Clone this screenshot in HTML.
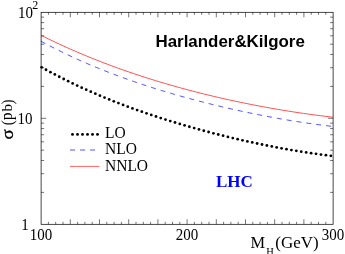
<!DOCTYPE html>
<html><head><meta charset="utf-8"><title>plot</title>
<style>
html,body{margin:0;padding:0;background:#fff;}
body{width:345px;height:254px;overflow:hidden;}
svg{display:block;will-change:transform;}
text{font-family:"Liberation Serif",serif;fill:#000;}
.sans{font-family:"Liberation Sans",sans-serif;font-weight:bold;}
</style></head><body>
<svg width="345" height="254" viewBox="0 0 345 254">

<!-- frame -->
<rect x="41.1" y="12.3" width="292.0" height="212.0" fill="none" stroke="#000" stroke-width="0.72"/>
<path d="M48.40,224.3 v-2.5 M48.40,12.3 v2.5 M55.70,224.3 v-2.5 M55.70,12.3 v2.5 M63.00,224.3 v-2.5 M63.00,12.3 v2.5 M70.30,224.3 v-5.0 M70.30,12.3 v5.0 M77.60,224.3 v-2.5 M77.60,12.3 v2.5 M84.90,224.3 v-2.5 M84.90,12.3 v2.5 M92.20,224.3 v-2.5 M92.20,12.3 v2.5 M99.50,224.3 v-5.0 M99.50,12.3 v5.0 M106.80,224.3 v-2.5 M106.80,12.3 v2.5 M114.10,224.3 v-2.5 M114.10,12.3 v2.5 M121.40,224.3 v-2.5 M121.40,12.3 v2.5 M128.70,224.3 v-5.0 M128.70,12.3 v5.0 M136.00,224.3 v-2.5 M136.00,12.3 v2.5 M143.30,224.3 v-2.5 M143.30,12.3 v2.5 M150.60,224.3 v-2.5 M150.60,12.3 v2.5 M157.90,224.3 v-5.0 M157.90,12.3 v5.0 M165.20,224.3 v-2.5 M165.20,12.3 v2.5 M172.50,224.3 v-2.5 M172.50,12.3 v2.5 M179.80,224.3 v-2.5 M179.80,12.3 v2.5 M187.10,224.3 v-5.0 M187.10,12.3 v5.0 M194.40,224.3 v-2.5 M194.40,12.3 v2.5 M201.70,224.3 v-2.5 M201.70,12.3 v2.5 M209.00,224.3 v-2.5 M209.00,12.3 v2.5 M216.30,224.3 v-5.0 M216.30,12.3 v5.0 M223.60,224.3 v-2.5 M223.60,12.3 v2.5 M230.90,224.3 v-2.5 M230.90,12.3 v2.5 M238.20,224.3 v-2.5 M238.20,12.3 v2.5 M245.50,224.3 v-5.0 M245.50,12.3 v5.0 M252.80,224.3 v-2.5 M252.80,12.3 v2.5 M260.10,224.3 v-2.5 M260.10,12.3 v2.5 M267.40,224.3 v-2.5 M267.40,12.3 v2.5 M274.70,224.3 v-5.0 M274.70,12.3 v5.0 M282.00,224.3 v-2.5 M282.00,12.3 v2.5 M289.30,224.3 v-2.5 M289.30,12.3 v2.5 M296.60,224.3 v-2.5 M296.60,12.3 v2.5 M303.90,224.3 v-5.0 M303.90,12.3 v5.0 M311.20,224.3 v-2.5 M311.20,12.3 v2.5 M318.50,224.3 v-2.5 M318.50,12.3 v2.5 M325.80,224.3 v-2.5 M325.80,12.3 v2.5 M41.1,192.39 h3.0 M333.1,192.39 h-3.0 M41.1,173.73 h3.0 M333.1,173.73 h-3.0 M41.1,160.48 h3.0 M333.1,160.48 h-3.0 M41.1,150.21 h3.0 M333.1,150.21 h-3.0 M41.1,141.82 h3.0 M333.1,141.82 h-3.0 M41.1,134.72 h3.0 M333.1,134.72 h-3.0 M41.1,128.57 h3.0 M333.1,128.57 h-3.0 M41.1,123.15 h3.0 M333.1,123.15 h-3.0 M41.1,118.30 h5.0 M333.1,118.30 h-5.0 M41.1,86.39 h3.0 M333.1,86.39 h-3.0 M41.1,67.73 h3.0 M333.1,67.73 h-3.0 M41.1,54.48 h3.0 M333.1,54.48 h-3.0 M41.1,44.21 h3.0 M333.1,44.21 h-3.0 M41.1,35.82 h3.0 M333.1,35.82 h-3.0 M41.1,28.72 h3.0 M333.1,28.72 h-3.0 M41.1,22.57 h3.0 M333.1,22.57 h-3.0 M41.1,17.15 h3.0 M333.1,17.15 h-3.0" fill="none" stroke="#000" stroke-width="0.55"/>
<!-- curves -->
<path d="M41.00,35.24 L44.70,37.08 L48.39,38.90 L52.09,40.68 L55.78,42.44 L59.48,44.17 L63.18,45.87 L66.87,47.54 L70.57,49.19 L74.27,50.81 L77.96,52.40 L81.66,53.97 L85.35,55.51 L89.05,57.03 L92.75,58.53 L96.44,60.00 L100.14,61.45 L103.84,62.87 L107.53,64.28 L111.23,65.66 L114.92,67.02 L118.62,68.36 L122.32,69.67 L126.01,70.97 L129.71,72.24 L133.41,73.50 L137.10,74.74 L140.80,75.95 L144.49,77.15 L148.19,78.33 L151.89,79.49 L155.58,80.63 L159.28,81.75 L162.97,82.86 L166.67,83.94 L170.37,85.02 L174.06,86.07 L177.76,87.11 L181.46,88.13 L185.15,89.13 L188.85,90.12 L192.54,91.09 L196.24,92.04 L199.94,92.98 L203.63,93.91 L207.33,94.82 L211.03,95.71 L214.72,96.59 L218.42,97.45 L222.11,98.30 L225.81,99.13 L229.51,99.95 L233.20,100.76 L236.90,101.55 L240.59,102.33 L244.29,103.09 L247.99,103.84 L251.68,104.57 L255.38,105.29 L259.08,106.00 L262.77,106.69 L266.47,107.37 L270.16,108.03 L273.86,108.69 L277.56,109.32 L281.25,109.95 L284.95,110.56 L288.65,111.15 L292.34,111.73 L296.04,112.30 L299.73,112.85 L303.43,113.39 L307.13,113.92 L310.82,114.43 L314.52,114.93 L318.22,115.41 L321.91,115.88 L325.61,116.34 L329.30,116.78 L333.00,117.20" fill="none" stroke="#ff0000" stroke-width="0.68"/>
<path d="M40.96,41.20 L42.43,41.99 L43.90,42.78 L45.36,43.56 L46.83,44.34 L48.30,45.11 L49.77,45.87 L51.23,46.63 L52.70,47.39 L54.17,48.13 L55.64,48.88 L57.10,49.61 L58.57,50.34 L60.04,51.07 L61.51,51.79 L62.97,52.50 L64.44,53.21 L65.91,53.92 L67.38,54.62 L68.84,55.31 L70.31,56.00 L71.78,56.68 L73.25,57.36 L74.71,58.03 L76.18,58.70 L77.65,59.37 L79.12,60.02 L80.58,60.68 L82.05,61.33 L83.52,61.97 L84.99,62.61 L86.45,63.25 L87.92,63.88 L89.39,64.50 L90.86,65.12 L92.32,65.74 L93.79,66.35 L95.26,66.96 L96.73,67.57 L98.19,68.17 L99.66,68.76 L101.13,69.35 L102.60,69.94 L104.06,70.52 L105.53,71.10 L107.00,71.68 L108.47,72.25 L109.93,72.81 L111.40,73.38 L112.87,73.94 L114.34,74.49 L115.80,75.04 L117.27,75.59 L118.74,76.14 L120.21,76.68 L121.67,77.21 L123.14,77.75 L124.61,78.28 L126.08,78.80 L127.54,79.32 L129.01,79.84 L130.48,80.36 L131.95,80.87 L133.41,81.38 L134.88,81.88 L136.35,82.39 L137.82,82.88 L139.29,83.38 L140.75,83.87 L142.22,84.36 L143.69,84.85 L145.16,85.33 L146.62,85.81 L148.09,86.29 L149.56,86.76 L151.03,87.23 L152.49,87.70 L153.96,88.16 L155.43,88.62 L156.90,89.08 L158.36,89.54 L159.83,89.99 L161.30,90.44 L162.77,90.89 L164.23,91.33 L165.70,91.77 L167.17,92.21 L168.64,92.65 L170.10,93.08 L171.57,93.51 L173.04,93.94 L174.51,94.36 L175.97,94.78 L177.44,95.20 L178.91,95.62 L180.38,96.04 L181.84,96.45 L183.31,96.86 L184.78,97.26 L186.25,97.67 L187.71,98.07 L189.18,98.47 L190.65,98.87 L192.12,99.26 L193.58,99.65 L195.05,100.04 L196.52,100.43 L197.99,100.81 L199.45,101.20 L200.92,101.58 L202.39,101.95 L203.86,102.33 L205.32,102.70 L206.79,103.07 L208.26,103.44 L209.73,103.81 L211.19,104.17 L212.66,104.53 L214.13,104.89 L215.60,105.25 L217.06,105.60 L218.53,105.96 L220.00,106.31 L221.47,106.65 L222.93,107.00 L224.40,107.34 L225.87,107.68 L227.34,108.02 L228.80,108.36 L230.27,108.69 L231.74,109.03 L233.21,109.36 L234.67,109.68 L236.14,110.01 L237.61,110.33 L239.08,110.66 L240.55,110.97 L242.01,111.29 L243.48,111.61 L244.95,111.92 L246.42,112.23 L247.88,112.54 L249.35,112.84 L250.82,113.15 L252.29,113.45 L253.75,113.75 L255.22,114.05 L256.69,114.34 L258.16,114.63 L259.62,114.93 L261.09,115.21 L262.56,115.50 L264.03,115.78 L265.49,116.07 L266.96,116.35 L268.43,116.62 L269.90,116.90 L271.36,117.17 L272.83,117.44 L274.30,117.71 L275.77,117.98 L277.23,118.24 L278.70,118.50 L280.17,118.76 L281.64,119.02 L283.10,119.27 L284.57,119.52 L286.04,119.77 L287.51,120.02 L288.97,120.27 L290.44,120.51 L291.91,120.75 L293.38,120.99 L294.84,121.22 L296.31,121.46 L297.78,121.69 L299.25,121.92 L300.71,122.14 L302.18,122.37 L303.65,122.59 L305.12,122.80 L306.58,123.02 L308.05,123.23 L309.52,123.44 L310.99,123.65 L312.45,123.86 L313.92,124.06 L315.39,124.26 L316.86,124.46 L318.32,124.65 L319.79,124.84 L321.26,125.03 L322.73,125.22 L324.19,125.40 L325.66,125.58 L327.13,125.76 L328.60,125.94 L330.06,126.11 L331.53,126.28 L333.00,126.44" fill="none" stroke="#0000ff" stroke-width="0.7" stroke-dasharray="5 4.965"/>
<g fill="#000"><circle cx="41.66" cy="67.36" r="1.4"/><circle cx="46.02" cy="69.77" r="1.4"/><circle cx="50.41" cy="72.14" r="1.4"/><circle cx="54.82" cy="74.47" r="1.4"/><circle cx="59.25" cy="76.76" r="1.4"/><circle cx="63.70" cy="79.01" r="1.4"/><circle cx="68.16" cy="81.22" r="1.4"/><circle cx="72.65" cy="83.40" r="1.4"/><circle cx="77.16" cy="85.53" r="1.4"/><circle cx="81.68" cy="87.63" r="1.4"/><circle cx="86.22" cy="89.69" r="1.4"/><circle cx="90.78" cy="91.71" r="1.4"/><circle cx="95.35" cy="93.70" r="1.4"/><circle cx="99.94" cy="95.66" r="1.4"/><circle cx="104.54" cy="97.57" r="1.4"/><circle cx="109.16" cy="99.46" r="1.4"/><circle cx="113.79" cy="101.31" r="1.4"/><circle cx="118.43" cy="103.12" r="1.4"/><circle cx="123.09" cy="104.90" r="1.4"/><circle cx="127.76" cy="106.66" r="1.4"/><circle cx="132.44" cy="108.38" r="1.4"/><circle cx="137.13" cy="110.06" r="1.4"/><circle cx="141.83" cy="111.72" r="1.4"/><circle cx="146.54" cy="113.35" r="1.4"/><circle cx="151.26" cy="114.95" r="1.4"/><circle cx="156.00" cy="116.52" r="1.4"/><circle cx="160.74" cy="118.06" r="1.4"/><circle cx="165.49" cy="119.58" r="1.4"/><circle cx="170.25" cy="121.06" r="1.4"/><circle cx="175.01" cy="122.52" r="1.4"/><circle cx="179.79" cy="123.96" r="1.4"/><circle cx="184.57" cy="125.37" r="1.4"/><circle cx="189.36" cy="126.75" r="1.4"/><circle cx="194.16" cy="128.10" r="1.4"/><circle cx="198.97" cy="129.43" r="1.4"/><circle cx="203.78" cy="130.74" r="1.4"/><circle cx="208.60" cy="132.02" r="1.4"/><circle cx="213.42" cy="133.28" r="1.4"/><circle cx="218.25" cy="134.51" r="1.4"/><circle cx="223.09" cy="135.72" r="1.4"/><circle cx="227.93" cy="136.90" r="1.4"/><circle cx="232.78" cy="138.06" r="1.4"/><circle cx="237.64" cy="139.20" r="1.4"/><circle cx="242.50" cy="140.31" r="1.4"/><circle cx="247.37" cy="141.39" r="1.4"/><circle cx="252.24" cy="142.45" r="1.4"/><circle cx="257.11" cy="143.49" r="1.4"/><circle cx="262.00" cy="144.50" r="1.4"/><circle cx="266.88" cy="145.49" r="1.4"/><circle cx="271.78" cy="146.45" r="1.4"/><circle cx="276.67" cy="147.38" r="1.4"/><circle cx="281.58" cy="148.29" r="1.4"/><circle cx="286.48" cy="149.17" r="1.4"/><circle cx="291.40" cy="150.03" r="1.4"/><circle cx="296.31" cy="150.85" r="1.4"/><circle cx="301.24" cy="151.65" r="1.4"/><circle cx="306.16" cy="152.42" r="1.4"/><circle cx="311.09" cy="153.16" r="1.4"/><circle cx="316.03" cy="153.86" r="1.4"/><circle cx="320.97" cy="154.54" r="1.4"/><circle cx="325.91" cy="155.18" r="1.4"/><circle cx="330.86" cy="155.78" r="1.4"/></g>
<!-- legend -->
<g fill="#000"><circle cx="72.5" cy="134.4" r="1.45"/><circle cx="77.5" cy="134.4" r="1.45"/><circle cx="82.5" cy="134.4" r="1.45"/><circle cx="87.5" cy="134.4" r="1.45"/><circle cx="92.5" cy="134.4" r="1.45"/><circle cx="97.5" cy="134.4" r="1.45"/></g>
<path d="M70,150 H95.1" fill="none" stroke="#0000ff" stroke-width="0.68" stroke-dasharray="5.1 4.95"/>
<path d="M70,166.4 H99.4" fill="none" stroke="#ff0000" stroke-width="0.62"/>
<text transform="translate(105,137.8) scale(1,1.06)" font-size="15.5">LO</text>
<text transform="translate(105,154.3) scale(1,1.06)" font-size="15.5">NLO</text>
<text transform="translate(105,170.7) scale(1,1.06)" font-size="15.5">NNLO</text>
<!-- titles -->
<text class="sans" x="155.5" y="46.7" font-size="16" textLength="149.3" lengthAdjust="spacingAndGlyphs">Harlander&amp;Kilgore</text>
<text x="216" y="187.4" font-size="17" font-weight="bold" fill="#0000ff" style="fill:#0000ff">LHC</text>
<!-- axis labels -->
<text transform="translate(17.9,18.0) scale(1,1.06)" font-size="15">10</text>
<text transform="translate(32.2,9.0) scale(1,1.05)" font-size="12">2</text>
<text transform="translate(17.4,123.6) scale(1,1.06)" font-size="15">10</text>
<text transform="translate(21.2,230.0) scale(1,1.06)" font-size="15">1</text>
<text transform="translate(41,240.3) scale(1,1.06)" font-size="15" text-anchor="middle">100</text>
<text transform="translate(187,240.3) scale(1,1.06)" font-size="15" text-anchor="middle">200</text>
<text transform="translate(333,240.3) scale(1,1.06)" font-size="15" text-anchor="middle">300</text>
<text x="250.5" y="247.9" font-size="16.4">M</text>
<text x="266.3" y="254.7" font-size="10.5">H</text>
<text x="275.3" y="247.9" font-size="16.4" textLength="43.3" lengthAdjust="spacingAndGlyphs">(GeV)</text>
<g font-size="15"><text transform="translate(12.6,139.5) rotate(-90) scale(1.25,1.14)" stroke="#000" stroke-width="0.3">σ</text><text transform="translate(12.6,125.3) rotate(-90) scale(1,1.13)">(</text><text transform="translate(12.2,120.0) rotate(-90) scale(1,1.1)">p</text><text transform="translate(12.2,111.6) rotate(-90) scale(1,1.0)">b</text><text transform="translate(12.6,104.5) rotate(-90) scale(1,1.13)">)</text></g>
</svg>
</body></html>
